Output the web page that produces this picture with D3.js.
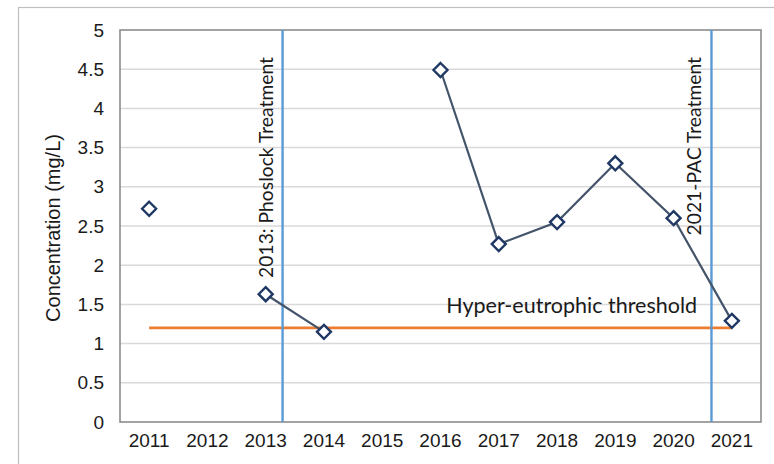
<!DOCTYPE html>
<html>
<head>
<meta charset="utf-8">
<script src="https://cdn.jsdelivr.net/npm/d3@7"></script>
<style>
  html, body { margin: 0; padding: 0; background: #fff; }
  svg { display: block; }
</style>
</head>
<body>
<svg id="chart" width="774" height="464"></svg>
<script>
// Annual concentration readings (mg/L); null = no sample that year
const years = ["2011","2012","2013","2014","2015","2016","2017","2018","2019","2020","2021"];
const concentration = [2.72, null, 1.63, 1.15, null, 4.49, 2.27, 2.55, 3.30, 2.60, 1.29];
const threshold = [1.2, 1.2, 1.2, 1.2, 1.2, 1.2, 1.2, 1.2, 1.2, 1.2, 1.2];
const yTicks = [0, 0.5, 1, 1.5, 2, 2.5, 3, 3.5, 4, 4.5, 5];
// Treatment events, as fractional positions along the year axis
const treatments = [
  { label: "2013: Phoslock Treatment", at: 2013.29 },
  { label: "2021-PAC Treatment", at: 2020.65 }
];
const thresholdLabel = "Hyper-eutrophic threshold";
const yTitle = "Concentration (mg/L)";

const svg = d3.select("#chart");
const plot = { left: 120, top: 30, right: 761, bottom: 422 };

const x = d3.scaleBand().domain(years).range([plot.left, plot.right]).paddingInner(0).paddingOuter(0);
const xc = d => x(d) + x.bandwidth() / 2;
// continuous year position (band centre = year)
const xYear = d3.scaleLinear()
  .domain([+years[0], +years[years.length - 1]])
  .range([xc(years[0]), xc(years[years.length - 1])]);
const y = d3.scaleLinear().domain([0, 5]).range([plot.bottom, plot.top]);

// outer chart frame
svg.append("rect")
  .attr("x", 18.5).attr("y", 7.5).attr("width", 800).attr("height", 500)
  .attr("fill", "none").attr("stroke", "#bfbfbf").attr("stroke-width", 1.2);

// gridlines
svg.append("g")
  .selectAll("line")
  .data(yTicks.filter(t => t > 0 && t < 5))
  .join("line")
  .attr("x1", plot.left).attr("x2", plot.right)
  .attr("y1", d => y(d)).attr("y2", d => y(d))
  .attr("stroke", "#d9d9d9").attr("stroke-width", 1.5);

// plot area border
svg.append("rect")
  .attr("x", plot.left).attr("y", plot.top)
  .attr("width", plot.right - plot.left).attr("height", plot.bottom - plot.top)
  .attr("fill", "none").attr("stroke", "#8c8c8c").attr("stroke-width", 1.6);

// y axis labels
const yAxis = d3.axisLeft(y).tickValues(yTicks).tickSize(0).tickPadding(16).tickFormat(d3.format("~g"));
svg.append("g")
  .attr("transform", `translate(${plot.left},0)`)
  .call(yAxis)
  .call(g => g.select(".domain").remove())
  .selectAll("text")
  .attr("font-family", "Liberation Sans, Arial, sans-serif")
  .attr("font-size", 19).attr("fill", "#1a1a1a");

// x axis labels
const xAxis = d3.axisBottom(x).tickSize(0).tickPadding(12);
svg.append("g")
  .attr("transform", `translate(0,${plot.bottom})`)
  .call(xAxis)
  .call(g => g.select(".domain").remove())
  .selectAll("text")
  .attr("font-family", "Liberation Sans, Arial, sans-serif")
  .attr("font-size", 19).attr("fill", "#1a1a1a");

// y axis title
svg.append("text")
  .attr("transform", `translate(60,${(plot.top + plot.bottom) / 2 + 2}) rotate(-90)`)
  .attr("text-anchor", "middle")
  .attr("font-family", "Liberation Sans, Arial, sans-serif")
  .attr("font-size", 20).attr("fill", "#1a1a1a")
  .text(yTitle);

// threshold line
const thresholdLine = d3.line().x((d, i) => xc(years[i])).y(d => y(d));
svg.append("path")
  .datum(threshold)
  .attr("d", thresholdLine)
  .attr("fill", "none").attr("stroke", "#ed7d31").attr("stroke-width", 2.6);

// treatment markers
svg.append("g")
  .selectAll("line")
  .data(treatments)
  .join("line")
  .attr("x1", d => xYear(d.at)).attr("x2", d => xYear(d.at))
  .attr("y1", plot.top).attr("y2", plot.bottom)
  .attr("stroke", "#5b9bd5").attr("stroke-width", 2.4);

// concentration line (breaks where data is missing)
const valueLine = d3.line()
  .defined(d => d != null)
  .x((d, i) => xc(years[i]))
  .y(d => y(d));
svg.append("path")
  .datum(concentration)
  .attr("d", valueLine)
  .attr("fill", "none").attr("stroke", "#44546a").attr("stroke-width", 2.2);

// diamond markers
const pts = concentration.map((v, i) => ({ year: years[i], v })).filter(d => d.v != null);
svg.append("g")
  .selectAll("path")
  .data(pts)
  .join("path")
  .attr("transform", d => `translate(${xc(d.year)},${y(d.v)})`)
  .attr("d", "M0,-7 L7,0 L0,7 L-7,0 Z")
  .attr("fill", "#fff").attr("stroke", "#1f3864").attr("stroke-width", 2.4)
  .attr("stroke-linejoin", "miter");

// treatment labels
svg.append("g")
  .selectAll("text")
  .data(treatments)
  .join("text")
  .attr("transform", d => `translate(${xYear(d.at) - 10},${plot.top + 27}) rotate(-90)`)
  .attr("text-anchor", "end")
  .attr("font-family", "Lato, 'Open Sans', sans-serif")
  .attr("font-size", 19.3).attr("fill", "#1a1a1a")
  .text(d => d.label);

// threshold label
svg.append("text")
  .attr("x", 697).attr("y", y(threshold[0]) - 15)
  .attr("text-anchor", "end")
  .attr("font-family", "Lato, 'Open Sans', sans-serif")
  .attr("font-size", 21.5).attr("fill", "#1a1a1a")
  .text(thresholdLabel);
</script>
</body>
</html>
